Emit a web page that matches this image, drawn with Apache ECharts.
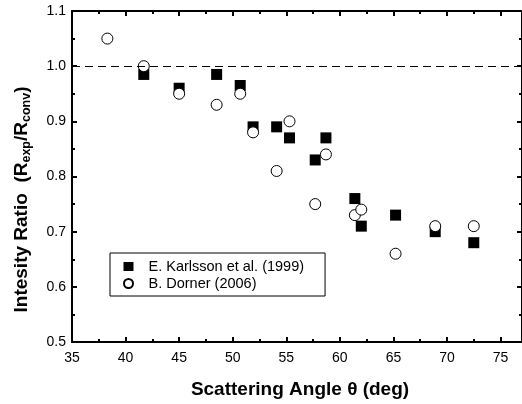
<!DOCTYPE html>
<html><head><meta charset="utf-8">
<script src="https://cdn.jsdelivr.net/npm/echarts@6/dist/echarts.min.js"></script>
<style>html,body{margin:0;padding:0;background:#fff}#c{width:522px;height:404px}</style>
</head><body><div id="c"></div>
<script>
const karlssonName = 'E. Karlsson et al. (1999)';
const karlssonAngle = [41.7, 45.0, 48.5, 50.7, 51.9, 54.1, 55.3, 57.7, 58.7, 61.4, 62.0, 65.2, 68.9, 72.5];
const karlssonRatio = [0.985, 0.96, 0.985, 0.965, 0.89, 0.89, 0.87, 0.83, 0.87, 0.76, 0.71, 0.73, 0.70, 0.68];
const dornerName = 'B. Dorner (2006)';
const dornerAngle = [38.3, 41.7, 45.0, 48.5, 50.7, 51.9, 54.1, 55.3, 57.7, 58.7, 61.4, 62.0, 65.2, 68.9, 72.5];
const dornerRatio = [1.05, 1.00, 0.95, 0.93, 0.95, 0.88, 0.81, 0.90, 0.75, 0.84, 0.73, 0.74, 0.66, 0.71, 0.71];
const xRange = [35, 77, 5];
const yRange = [0.5, 1.1, 0.1];
const referenceRatio = 1.0;

const FONT = '"Liberation Sans", Arial, sans-serif';
const black = '#000';

function pairs(xs, ys) { return xs.map((x, i) => [x, ys[i]]); }

function xAxisCfg(pos, showLabel) {
  return {
    type: 'value', position: pos, min: xRange[0], max: xRange[1], interval: xRange[2],
    axisLine: { onZero: false, lineStyle: { color: black, width: 2 } },
    axisTick: { inside: true, length: 5, lineStyle: { color: black, width: 2 } },
    minorTick: { show: true, splitNumber: 2, length: 3, lineStyle: { color: black, width: 2 } },
    splitLine: { show: false },
    axisLabel: { show: showLabel, color: black, fontSize: 14, margin: 9, fontFamily: FONT, showMaxLabel: false },
    name: showLabel ? 'Scattering Angle θ (deg)' : '',
    nameLocation: 'middle', nameGap: 38,
    nameTextStyle: { color: black, fontSize: 19, fontWeight: 'bold', fontFamily: FONT, padding: [0, 0, 0, 6] }
  };
}
function yAxisCfg(pos, showLabel) {
  return {
    type: 'value', position: pos, min: yRange[0], max: yRange[1], interval: yRange[2],
    axisLine: { onZero: false, lineStyle: { color: black, width: 2 } },
    axisTick: { inside: true, length: 5, lineStyle: { color: black, width: 2 } },
    minorTick: { show: true, splitNumber: 2, length: 3, lineStyle: { color: black, width: 2 } },
    splitLine: { show: false },
    axisLabel: { show: showLabel, color: black, fontSize: 14, margin: 6, fontFamily: FONT,
      formatter: v => v.toFixed(1) },
    name: showLabel ? '{m|Intesity Ratio  (R}{s|exp}{m|/R}{s|conv}{m|)}' : '',
    nameLocation: 'middle', nameGap: 39,
    nameTextStyle: {
      color: black, fontFamily: FONT, padding: [0, 46, 0, 0],
      rich: {
        m: { fontSize: 19, fontWeight: 'bold', color: black, fontFamily: FONT, lineHeight: 22 },
        s: { fontSize: 12.5, fontWeight: 'bold', color: black, fontFamily: FONT, padding: [10, 0, 0, 0], lineHeight: 13 }
      }
    }
  };
}

const chart = echarts.init(document.getElementById('c'), null, { renderer: 'canvas' });
chart.setOption({
  animation: false,
  backgroundColor: '#fff',
  grid: { left: 72, top: 11, width: 450, height: 336, containLabel: false },
  xAxis: [xAxisCfg('bottom', true), xAxisCfg('top', false)],
  yAxis: [yAxisCfg('left', true), yAxisCfg('right', false)],
  legend: {
    orient: 'vertical', left: 110, top: 253,
    padding: [6, 21, 5, 13], itemWidth: 10, itemHeight: 9, itemGap: 2,
    borderColor: black, borderWidth: 1,
    textStyle: { color: black, fontSize: 14.5, lineHeight: 15, fontFamily: FONT, padding: [0, 0, 0, 10] },
    data: [karlssonName, dornerName]
  },
  series: [
    {
      name: karlssonName, type: 'scatter', symbol: 'rect', symbolSize: 11,
      itemStyle: { color: black, borderColor: black, borderWidth: 0, opacity: 1 },
      data: pairs(karlssonAngle, karlssonRatio),
      markLine: {
        silent: true, symbol: 'none', label: { show: false },
        lineStyle: { color: black, width: 1, type: [8, 5] },
        data: [{ yAxis: referenceRatio }]
      }
    },
    {
      name: dornerName, type: 'scatter', symbol: 'circle', symbolSize: 11,
      itemStyle: { color: '#fff', borderColor: black, borderWidth: 1, opacity: 1 },
      data: pairs(dornerAngle, dornerRatio)
    }
  ]
});
</script></body></html>
